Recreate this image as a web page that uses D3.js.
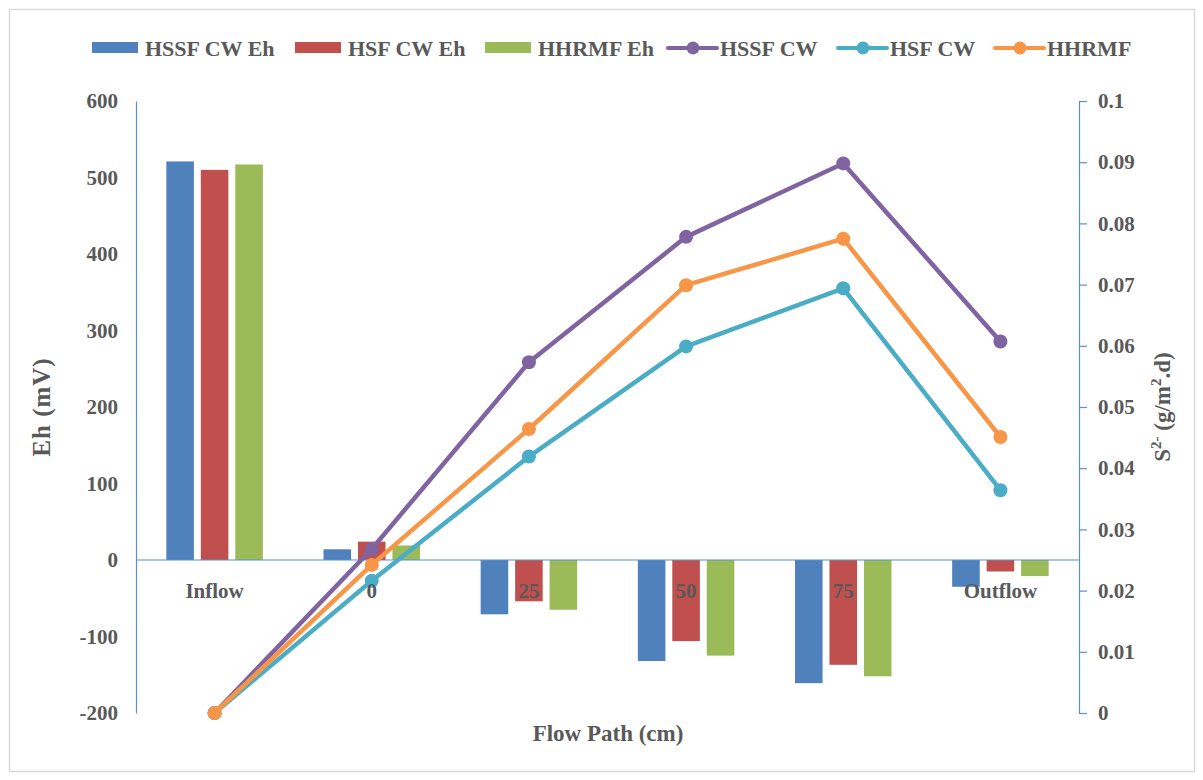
<!DOCTYPE html>
<html><head><meta charset="utf-8">
<script src="https://cdn.jsdelivr.net/npm/d3@7"></script>
<style>body{margin:0;background:#fff}svg{display:block}text{font-family:"Liberation Serif","Times New Roman",serif;font-weight:bold;fill:#595959}</style>
</head><body>
<script>
const categories = ["Inflow","0","25","50","75","Outflow"];
const barSeries = ["HSSF CW Eh","HSF CW Eh","HHRMF Eh"];
const hssfEh = [521, 14, -71, -132, -161, -35];
const hsfEh = [510, 24, -54, -106, -137, -15];
const hhrmfEh = [517, 19, -65, -125, -152, -21];
const lineSeries = ["HSSF CW","HSF CW","HHRMF"];
const hssfS = [0, 0.0268, 0.0573, 0.0778, 0.0898, 0.0607];
const hsfS = [0, 0.0216, 0.0419, 0.0599, 0.0694, 0.0364];
const hhrmfS = [0, 0.0242, 0.0464, 0.0699, 0.0775, 0.0451];
const leftTicks = [-200,-100,0,100,200,300,400,500,600];
const rightTicks = [0,0.01,0.02,0.03,0.04,0.05,0.06,0.07,0.08,0.09,0.1];

const barColors = ["#4F81BD","#C0504D","#9BBB59"];
const lineColors = ["#8064A2","#4BACC6","#F79646"];
const axisColor = "#5B8FD0";

const W = 1203, H = 780;
const svg = d3.select("body").append("svg").attr("width",W).attr("height",H);
svg.append("rect").attr("x",9.5).attr("y",9.5).attr("width",1185).attr("height",762)
  .attr("fill","#fff").attr("stroke","#d9d9d9").attr("stroke-width",1.5);

const plot = {l:136, r:1079, t:101, b:713};
const x = d3.scaleBand().domain(categories).range([plot.l, plot.r]).paddingInner(0).paddingOuter(0);
const yL = d3.scaleLinear().domain([-200,600]).range([plot.b, plot.t]);
const yR = d3.scaleLinear().domain([0,0.1]).range([plot.b, plot.t]);
const inner = d3.scaleBand().domain(barSeries).range([0, x.bandwidth()]).paddingInner(0.2).paddingOuter(0.88);

// left axis
const gL = svg.append("g").attr("transform",`translate(${plot.l},0)`)
  .call(d3.axisLeft(yL).tickValues(leftTicks).tickSize(0).tickPadding(18).tickFormat(d=>String(d)));
gL.select(".domain").attr("stroke",axisColor).attr("stroke-width",1.2);
gL.selectAll("text").attr("font-size",21).attr("fill","#595959");

// right axis
const gR = svg.append("g").attr("transform",`translate(${plot.r},0)`)
  .call(d3.axisRight(yR).tickValues(rightTicks).tickSize(8).tickPadding(11).tickFormat(d=>String(+d.toFixed(2))));
gR.select(".domain").attr("stroke",axisColor).attr("stroke-width",1.2);
gR.selectAll(".tick line").attr("stroke",axisColor).attr("stroke-width",1.2);
gR.selectAll("text").attr("font-size",21).attr("fill","#595959");

// bars
const barData = [hssfEh, hsfEh, hhrmfEh];
barData.forEach((vals, si) => {
  svg.append("g").selectAll("rect").data(vals).join("rect")
    .attr("x",(d,i)=>x(categories[i]) + inner(barSeries[si]))
    .attr("width",inner.bandwidth())
    .attr("y",d=>yL(Math.max(0,d)))
    .attr("height",d=>Math.abs(yL(d)-yL(0)))
    .attr("fill",barColors[si]);
});

// zero line
svg.append("line").attr("x1",plot.l).attr("x2",plot.r).attr("y1",yL(0)).attr("y2",yL(0))
  .attr("stroke",axisColor).attr("stroke-width",1.2);

// lines
const lineData = [hssfS, hsfS, hhrmfS];
const lineGen = d3.line().x((d,i)=>x(categories[i])+x.bandwidth()/2).y(d=>yR(d));
lineData.forEach((vals, si) => {
  const g = svg.append("g");
  g.append("path").datum(vals).attr("d",lineGen).attr("fill","none")
    .attr("stroke",lineColors[si]).attr("stroke-width",4.5).attr("stroke-linejoin","round");
  g.selectAll("circle").data(vals).join("circle")
    .attr("cx",(d,i)=>x(categories[i])+x.bandwidth()/2).attr("cy",d=>yR(d)).attr("r",7)
    .attr("fill",lineColors[si]);
});

// category labels
svg.append("g").selectAll("text").data(categories).join("text")
  .attr("x",d=>x(d)+x.bandwidth()/2).attr("y",yL(0)+38)
  .attr("text-anchor","middle").attr("font-size",21).text(d=>d);

// axis titles
svg.append("text").attr("transform",`translate(50,407) rotate(-90)`).attr("text-anchor","middle")
  .attr("font-size",25).attr("letter-spacing",1).text("Eh (mV)");
const rt = svg.append("text").attr("transform",`translate(1170,407) rotate(-90)`).attr("text-anchor","middle")
  .attr("font-size",23);
rt.append("tspan").text("S");
rt.append("tspan").attr("font-size",15).attr("dy",-9).text("2-");
rt.append("tspan").attr("dy",9).text(" (g/m");
rt.append("tspan").attr("font-size",15).attr("dy",-9).text("2");
rt.append("tspan").attr("dy",9).text(".d)");
svg.append("text").attr("x",608).attr("y",741).attr("text-anchor","middle")
  .attr("font-size",23).text("Flow Path (cm)");

// legend
const legendItems = [
  {name:barSeries[0], color:barColors[0], type:"bar", x:92},
  {name:barSeries[1], color:barColors[1], type:"bar", x:295},
  {name:barSeries[2], color:barColors[2], type:"bar", x:485},
  {name:lineSeries[0], color:lineColors[0], type:"line", x:668},
  {name:lineSeries[1], color:lineColors[1], type:"line", x:838},
  {name:lineSeries[2], color:lineColors[2], type:"line", x:995}
];
const lg = svg.append("g");
legendItems.forEach(it => {
  const g = lg.append("g").attr("transform",`translate(${it.x},48)`);
  if (it.type==="bar") {
    g.append("rect").attr("x",0).attr("y",-6).attr("width",46).attr("height",11).attr("fill",it.color);
    g.append("text").attr("x",53).attr("y",8).attr("font-size",22).text(it.name);
  } else {
    g.append("line").attr("x1",0).attr("x2",49).attr("y1",0).attr("y2",0).attr("stroke",it.color).attr("stroke-width",4).attr("stroke-linecap","round");
    g.append("circle").attr("cx",25).attr("cy",0).attr("r",6.5).attr("fill",it.color);
    g.append("text").attr("x",52).attr("y",8).attr("font-size",22).text(it.name);
  }
});
</script>
</body></html>
